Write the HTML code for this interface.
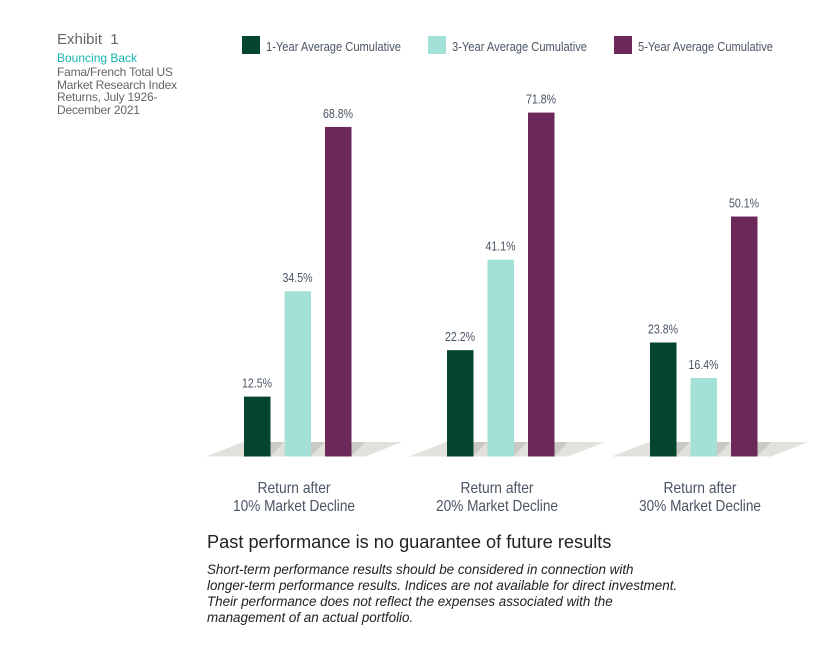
<!DOCTYPE html>
<html><head><meta charset="utf-8"><style>
body{margin:0;background:#fff;width:840px;height:662px;overflow:hidden;font-family:"Liberation Sans",sans-serif;}
.t{position:absolute;}
</style></head><body>
<div class="t" style="left:57px;top:31px;font-size:15px;color:#666;word-spacing:4px">Exhibit 1</div>
<div class="t" style="left:57px;top:51px;font-size:12px;color:#13b5b1">Bouncing Back</div>
<div class="t" style="left:57px;top:66px;font-size:12px;line-height:12.5px;color:#666;width:135px;letter-spacing:-0.2px">Fama/French Total US Market Research Index Returns, July 1926-December 2021</div>
<svg class="t" style="left:0;top:0" width="840" height="662">
<g id="legend"></g><g id="plat"></g><g id="bars"></g><g id="labs"></g>
</svg>
<div class="t" style="left:207px;top:532px;font-size:18.2px;color:#222">Past performance is no guarantee of future results</div>
<div class="t" style="left:207px;top:562px;font-size:13.4px;line-height:16px;font-style:italic;color:#222;white-space:nowrap">Short-term performance results should be considered in connection with<br>longer-term performance results. Indices are not available for direct investment.<br>Their performance does not reflect the expenses associated with the<br>management of an actual portfolio.</div>
<script>
const categories=[["Return after","10% Market Decline"],["Return after","20% Market Decline"],["Return after","30% Market Decline"]];
const seriesNames=["1-Year Average Cumulative","3-Year Average Cumulative","5-Year Average Cumulative"];
const oneYear=[12.5,22.2,23.8];
const threeYear=[34.5,41.1,16.4];
const fiveYear=[68.8,71.8,50.1];
const colors=["#03452f","#a3e0d5","#6b2858"];
const NS="http://www.w3.org/2000/svg";
function mk(t,a,p){const e=document.createElementNS(NS,t);for(const k in a)e.setAttribute(k,a[k]);p.appendChild(e);return e;}
const base=456.5,k=4.79;
const y=v=>base-v*k;
const gx=i=>244+i*203;
const series=[oneYear,threeYear,fiveYear];
const L=document.getElementById('legend'),P=document.getElementById('plat'),B=document.getElementById('bars'),T=document.getElementById('labs');
const lx=[242,428,614];
seriesNames.forEach((n,s)=>{
 const r=mk('rect',{x:lx[s],y:36,width:18,height:18,fill:colors[s]},L);
 
 
 const t=mk('text',{x:lx[s]+24,y:51,'font-size':13,fill:'#4a5563',textLength:135,lengthAdjust:'spacingAndGlyphs'},L);
 t.textContent=n;
 
 
});
categories.forEach((c,i)=>{
 const x0=gx(i);
 const p=mk('polygon',{points:`${x0-38},${base} ${x0-1},442 ${x0+158},442 ${x0+121},${base}`,fill:'#e2e1dc'},P);
 
 
 series.forEach((arr,s)=>{
  const bx=x0+s*40.5,v=arr[i];
  mk('polygon',{points:`${bx+26},${base} ${bx+26},442 ${bx+40},442 ${bx+26},${base}`,fill:'#cbc9c4'},P);
  const r=mk('rect',{x:bx,y:y(v),width:26.5,height:base-y(v),fill:colors[s]},B);
  
  
  const t=mk('text',{x:bx+13,y:y(v)-9,'font-size':13,fill:'#4a5563','text-anchor':'middle',textLength:30,lengthAdjust:'spacingAndGlyphs'},T);
  t.textContent=v.toFixed(1)+'%';
  
  
 });
 const lens=[73,122];
 c.forEach((line,j)=>{
  const t=mk('text',{x:x0+50,y:493+j*18,'font-size':16,fill:'#4a5563','text-anchor':'middle',textLength:lens[j],lengthAdjust:'spacingAndGlyphs'},T);
  t.textContent=line;
  
  
 });
});
</script>
</body></html>
